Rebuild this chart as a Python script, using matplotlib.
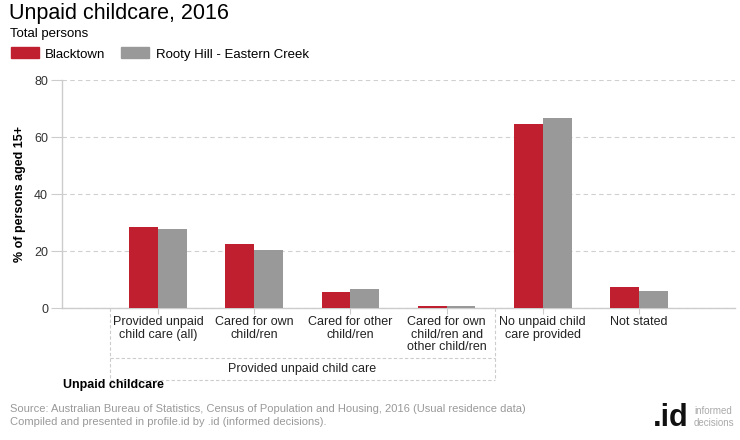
import matplotlib.pyplot as plt
import numpy as np

plt.rcParams['font.family'] = ['Liberation Sans', 'DejaVu Sans']

categories = ["Provided unpaid\nchild care (all)", "Cared for own\nchild/ren", "Cared for other\nchild/ren",
              "Cared for own\nchild/ren and\nother child/ren", "No unpaid child\ncare provided", "Not stated"]
blacktown = [28.5, 22.5, 5.7, 0.7, 64.6, 7.4]
rooty_hill = [27.7, 20.4, 6.7, 0.6, 66.7, 6.1]
series_names = ["Blacktown", "Rooty Hill - Eastern Creek"]
group_label = "Provided unpaid child care"
group_span = (0, 3)  # first and last category index in the group

red = '#C01F2F'
grey = '#999999'
line_col = '#cccccc'

fig = plt.figure(figsize=(7.4, 4.4), dpi=100)
ax = fig.add_axes([62/740, 132/440, 673/740, 228/440])

x = np.arange(len(categories))
w = 0.3
ax.bar(x - w/2, blacktown, w, color=red, zorder=3)
ax.bar(x + w/2, rooty_hill, w, color=grey, zorder=3)

ax.set_xlim(-1, len(categories))
ax.set_ylim(0, 80)
ax.set_yticks([0, 20, 40, 60, 80])
ax.yaxis.grid(True, color='#d0d0d0', linestyle=(0, (4, 3)), linewidth=0.8, zorder=0)
ax.tick_params(axis='y', colors=line_col, labelcolor='#333333', labelsize=9, length=8, width=0.8, pad=2)
ax.set_xticks(x)
ax.set_xticklabels(categories, fontsize=9, color='#222222', linespacing=1.05)
ax.tick_params(axis='x', colors=line_col, labelcolor='#222222', length=4, width=0.8, pad=2)
for s in ['top', 'right']:
    ax.spines[s].set_visible(False)
for s in ['left', 'bottom']:
    ax.spines[s].set_color(line_col)
    ax.spines[s].set_linewidth(1)
ax.set_ylabel("% of persons aged 15+", fontsize=9, fontweight='bold', labelpad=6)

# group bracket below categories
x0, x1 = group_span[0] - 0.5, group_span[1] + 0.5
trans = ax.get_xaxis_transform()
dash = dict(color=line_col, linewidth=0.8, linestyle=(0, (3, 2)), transform=trans, clip_on=False)
y_mid = -50/228
y_bot = -72/228
ax.plot([x0, x0], [0, y_bot], **dash)
ax.plot([x1, x1], [0, y_bot], **dash)
ax.plot([x0, x1], [y_mid, y_mid], **dash)
ax.plot([x0, x1], [y_bot, y_bot], **dash)
ax.text((x0 + x1) / 2, (y_mid + y_bot) / 2, group_label, transform=trans,
        ha='center', va='center', fontsize=9, color='#222222')

fig.text(63/740, 1 - 385/440, "Unpaid childcare", fontsize=9, fontweight='bold', ha='left', va='center')

# titles and legend
fig.text(9/740, 1 - 13/440, "Unpaid childcare, 2016", fontsize=15.5, ha='left', va='center')
fig.text(10/740, 1 - 34/440, "Total persons", fontsize=9.5, ha='left', va='center')
handles = [plt.Rectangle((0, 0), 1, 1, color=red), plt.Rectangle((0, 0), 1, 1, color=grey)]
fig.legend(handles, series_names, loc='center left', bbox_to_anchor=(-1/740, 1 - 54/440), ncol=2,
           frameon=False, fontsize=9.5, handlelength=2.1, handleheight=0.9, handletextpad=0.5,
           columnspacing=1.2)

fig.text(10/740, 1 - 409/440, "Source: Australian Bureau of Statistics, Census of Population and Housing, 2016 (Usual residence data)",
         fontsize=8, color='#999999', ha='left', va='center')
fig.text(10/740, 1 - 422/440, "Compiled and presented in profile.id by .id (informed decisions).",
         fontsize=8, color='#999999', ha='left', va='center')
fig.text(689/740, 1 - 418/440, ".id", fontsize=22, fontweight='bold', color='#111111', ha='right', va='center')
fig.text(694/740, 1 - 411/440, "informed", fontsize=7, color='#aaaaaa', ha='left', va='center')
fig.text(694/740, 1 - 423/440, "decisions", fontsize=7, color='#aaaaaa', ha='left', va='center')

fig.savefig('out.png', dpi=100)
